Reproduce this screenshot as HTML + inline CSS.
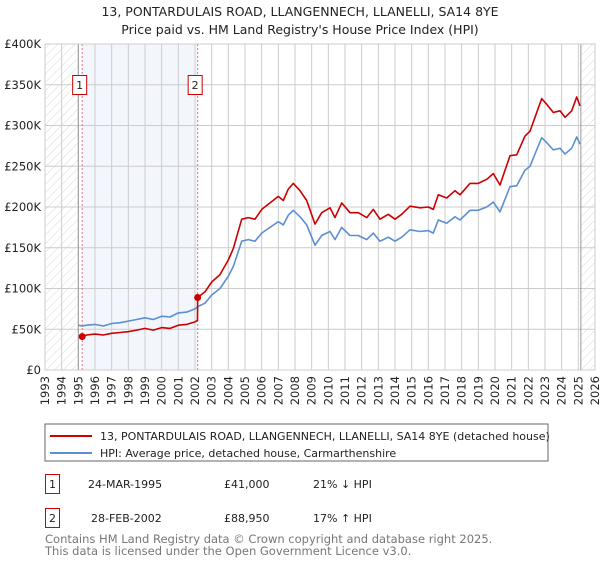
<!DOCTYPE html>
<html><head><meta charset="utf-8"><style>
body{margin:0;background:#fff;font-family:"Liberation Sans","DejaVu Sans",sans-serif;}
svg text{font-family:"DejaVu Sans","Liberation Sans",sans-serif;}
</style></head><body>
<svg id="chart" width="600" height="560" viewBox="0 0 600 560" xmlns="http://www.w3.org/2000/svg">
<defs>
<pattern id="hatch" patternUnits="userSpaceOnUse" width="6" height="6" patternTransform="rotate(45)">
<line x1="0" y1="0" x2="0" y2="6" stroke="#d8d8d8" stroke-width="1"/>
</pattern>
</defs>
<text x="300" y="16" text-anchor="middle" font-size="12.5" fill="#222">13, PONTARDULAIS ROAD, LLANGENNECH, LLANELLI, SA14 8YE</text>
<text x="300" y="34" text-anchor="middle" font-size="12.5" fill="#222">Price paid vs. HM Land Registry's House Price Index (HPI)</text>
<g id="plot"></g>
<rect x="45" y="424" width="503" height="37" fill="#fff" stroke="#666"/>
<line x1="50" y1="436" x2="92" y2="436" stroke="#cc0000" stroke-width="2"/>
<text x="100" y="440" font-size="11" fill="#222">13, PONTARDULAIS ROAD, LLANGENNECH, LLANELLI, SA14 8YE (detached house)</text>
<line x1="50" y1="453" x2="92" y2="453" stroke="#5b8fd1" stroke-width="2"/>
<text x="100" y="457" font-size="11" fill="#222">HPI: Average price, detached house, Carmarthenshire</text>
<g>
<rect x="45.5" y="474.5" width="14" height="19" fill="#fff" stroke="#cc0000"/>
<text x="52.5" y="488" text-anchor="middle" font-size="11" fill="#222">1</text>
<text x="88" y="488" font-size="11" fill="#222">24-MAR-1995</text>
<text x="224" y="488" font-size="11" fill="#222">£41,000</text>
<text x="313" y="488" font-size="11" fill="#222">21% ↓ HPI</text>
</g>
<g>
<rect x="45.5" y="508.5" width="14" height="19" fill="#fff" stroke="#cc0000"/>
<text x="52.5" y="522" text-anchor="middle" font-size="11" fill="#222">2</text>
<text x="91" y="522" font-size="11" fill="#222">28-FEB-2002</text>
<text x="224" y="522" font-size="11" fill="#222">£88,950</text>
<text x="313" y="522" font-size="11" fill="#222">17% ↑ HPI</text>
</g>
<text x="45" y="543" font-size="11.5" fill="#777">Contains HM Land Registry data © Crown copyright and database right 2025.</text>
<text x="45" y="555" font-size="11.5" fill="#777">This data is licensed under the Open Government Licence v3.0.</text>
</svg>
<script>
const yTicks=[0,50000,100000,150000,200000,250000,300000,350000,400000];
const yTickLabels=["£0","£50K","£100K","£150K","£200K","£250K","£300K","£350K","£400K"];
const xYears=[1993,1994,1995,1996,1997,1998,1999,2000,2001,2002,2003,2004,2005,2006,2007,2008,2009,2010,2011,2012,2013,2014,2015,2016,2017,2018,2019,2020,2021,2022,2023,2024,2025,2026];
const hpiDates=[1995.0,1995.2,1995.5,1996,1996.5,1997,1997.5,1998,1998.5,1999,1999.5,2000,2000.5,2001,2001.5,2002,2002.2,2002.6,2003,2003.5,2004,2004.3,2004.8,2005.2,2005.6,2006,2006.5,2007,2007.3,2007.6,2007.9,2008.3,2008.7,2009.2,2009.6,2010.1,2010.4,2010.8,2011.3,2011.8,2012.3,2012.7,2013.1,2013.6,2014.0,2014.4,2014.9,2015.5,2016,2016.3,2016.6,2017.1,2017.6,2017.9,2018.5,2019,2019.5,2019.9,2020.3,2020.9,2021.3,2021.8,2022.1,2022.4,2022.8,2023.1,2023.5,2023.9,2024.2,2024.6,2024.9,2025.1];
const hpiValues=[55,54,55,56,54,57,58,60,62,64,62,66,65,70,71,75,78,82,92,100,115,127,158,160,158,168,175,182,178,190,196,188,178,153,165,170,160,175,165,165,160,168,158,163,158,163,172,170,171,168,184,180,188,184,196,196,200,206,194,225,226,245,250,265,285,279,270,272,265,272,286,277];
const propDates=[1995.23,1995.5,1996,1996.5,1997,1997.5,1998,1998.5,1999,1999.5,2000,2000.5,2001,2001.5,2002,2002.15,2002.16,2002.6,2003,2003.5,2004,2004.3,2004.8,2005.2,2005.6,2006,2006.5,2007,2007.3,2007.6,2007.9,2008.3,2008.7,2009.2,2009.6,2010.1,2010.4,2010.8,2011.3,2011.8,2012.3,2012.7,2013.1,2013.6,2014.0,2014.4,2014.9,2015.5,2016,2016.3,2016.6,2017.1,2017.6,2017.9,2018.5,2019,2019.5,2019.9,2020.3,2020.9,2021.3,2021.8,2022.1,2022.4,2022.8,2023.1,2023.5,2023.9,2024.2,2024.6,2024.9,2025.1];
const propValues=[41,43,44,43,45,46,47,49,51,49,52,51,55,56,59,61,89,96,108,117,135,149,185,187,185,197,205,213,208,222,229,220,208,179,193,199,187,205,193,193,187,197,185,191,185,191,201,199,200,197,215,211,220,215,229,229,234,241,227,263,264,287,293,310,333,326,316,318,310,318,335,324];
const saleDates=[1995.23,2002.16];
const salePrices=[41000,88950];
const saleLabels=["1","2"];

const X0=45,X1=595,Y0=370,Y1=44;
const xs=y=>X0+(y-1993)/(2026-1993)*(X1-X0);
const ys=v=>Y0-v/400000*(Y0-Y1);
const NS="http://www.w3.org/2000/svg";
const plot=document.getElementById('plot');
function mk(tag,attrs,parent){const e=document.createElementNS(NS,tag);for(const k in attrs)e.setAttribute(k,attrs[k]);(parent||plot).appendChild(e);return e;}

let e;
e=mk('rect',{x:xs(1995.22),y:Y1,width:xs(2002.16)-xs(1995.22),height:Y0-Y1,fill:'#eef3fc',opacity:0.7});


e=mk('rect',{x:X0,y:Y1,width:xs(1995)-X0,height:Y0-Y1,fill:'url(#hatch)'});


e=mk('rect',{x:xs(2025.15),y:Y1,width:X1-xs(2025.15),height:Y0-Y1,fill:'url(#hatch)'});



xYears.forEach((yr,i)=>{
  const l=mk('line',{x1:xs(yr),x2:xs(yr),y1:Y1,y2:Y0,stroke:'#ccc','stroke-width':1});
  
  
  const tx=xs(yr)+4, ty=Y0+6;
  const t=mk('text',{x:tx,y:ty,'text-anchor':'end','font-size':11.5,fill:'#222',transform:'rotate(-90 '+tx+' '+ty+')'});
  t.textContent=yr;
  
  
});
yTicks.forEach((v,i)=>{
  const l=mk('line',{x1:X0,x2:X1,y1:ys(v),y2:ys(v),stroke:'#ccc','stroke-width':1});
  
  
  const t=mk('text',{x:X0-4,y:ys(v)+4,'text-anchor':'end','font-size':11.5,fill:'#222'});
  t.textContent=yTickLabels[i];
  
  
});
e=mk('line',{x1:xs(1995),x2:xs(1995),y1:Y1,y2:Y0,stroke:'#999','stroke-width':1});


e=mk('line',{x1:xs(2025.15),x2:xs(2025.15),y1:Y1,y2:Y0,stroke:'#999','stroke-width':1});


saleDates.forEach((d,i)=>{
  const l=mk('line',{x1:xs(d),x2:xs(d),y1:Y1,y2:Y0,stroke:'#e57373','stroke-width':1,'stroke-dasharray':'2,2'});
  
  
});
e=mk('rect',{x:X0,y:Y1,width:X1-X0,height:Y0-Y1,fill:'none',stroke:'#ccc'});



function path(dates,vals,color,name){
  const d=dates.map((t,i)=>(i?'L':'M')+xs(t).toFixed(1)+','+ys(vals[i]*1000).toFixed(1)).join(' ');
  const p=mk('path',{d:d,fill:'none',stroke:color,'stroke-width':1.6,'stroke-linejoin':'round'});
  
  
}
path(hpiDates,hpiValues,'#5b8fd1','hpi-line');
path(propDates,propValues,'#cc0000','property-price-line');

saleDates.forEach((d,i)=>{
  const c=mk('circle',{cx:xs(d),cy:ys(salePrices[i]),r:3.5,fill:'#cc0000'});
  
  
  const bx=xs(d)-10;
  const r=mk('rect',{x:bx+0.5,y:75.5,width:14,height:19,fill:'#fff',stroke:'#cc0000'});
  
  
  const t=mk('text',{x:bx+7.5,y:89,'text-anchor':'middle','font-size':11,fill:'#222'});
  t.textContent=saleLabels[i];
  
  
});
</script>
</body></html>
